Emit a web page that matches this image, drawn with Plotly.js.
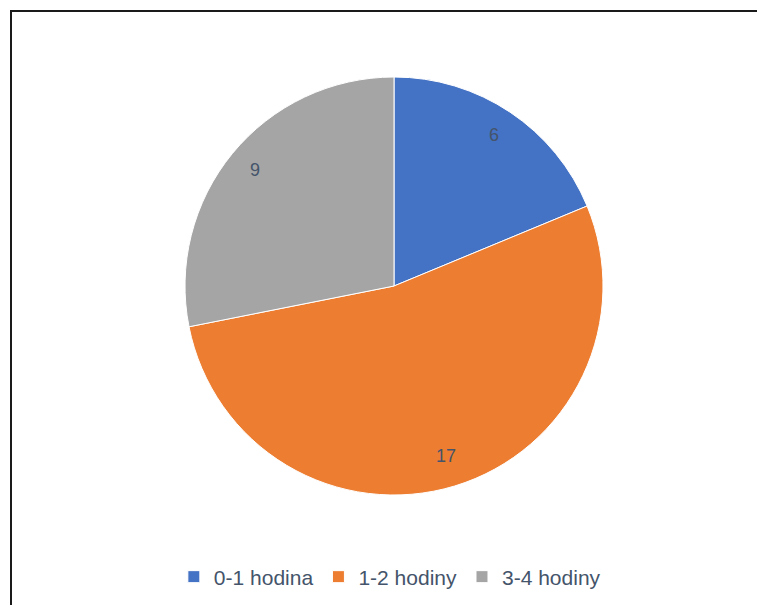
<!DOCTYPE html>
<html>
<head>
<meta charset="utf-8">
<script src="https://cdn.plot.ly/plotly-3.0.1.min.js"></script>
<style>html,body{margin:0;padding:0;background:#fff;}#chart{width:757px;height:605px;}</style>
</head>
<body>
<div id="chart"></div>
<script>
var categories = ["0-1 hodina", "1-2 hodiny", "3-4 hodiny"];
var values = [6, 17, 9];
var colors = ["#4472C4", "#ED7D31", "#A5A5A5"];

var W = 757, H = 605;
var cx = 394, cy = 286, R = 209;

var total = values.reduce(function(a,b){return a+b;}, 0);
var annotations = [];
var acc = 0;
for (var i = 0; i < values.length; i++) {
  var mid = (acc + values[i] / 2) / total * 2 * Math.PI;
  acc += values[i];
  var r = 0.86 * R;
  var px = cx + r * Math.sin(mid);
  var py = cy - r * Math.cos(mid) - 2;
  annotations.push({
    x: px / W, y: 1 - py / H, xref: "paper", yref: "paper",
    text: String(values[i]), showarrow: false,
    xanchor: "center", yanchor: "middle",
    font: {family: "Liberation Sans, Arial, sans-serif", size: 18, color: "#44546A"}
  });
}

var data = [{
  type: "pie",
  labels: categories,
  values: values,
  sort: false,
  direction: "clockwise",
  rotation: 0,
  textinfo: "none",
  hoverinfo: "label+value",
  marker: {colors: colors, line: {color: "#FFFFFF", width: 1}},
  domain: {x: [(cx - R) / W, (cx + R) / W], y: [1 - (cy + R) / H, 1 - (cy - R) / H]}
}];

var layout = {
  width: W, height: H,
  margin: {l: 0, r: 0, t: 0, b: 0},
  paper_bgcolor: "#FFFFFF",
  showlegend: true,
  legend: {
    orientation: "h", x: 0.515, xanchor: "center", y: 1 - 577 / H, yanchor: "middle",
    font: {family: "Liberation Sans, Arial, sans-serif", size: 21, color: "#44546A"},
    itemwidth: 30, traceorder: "normal"
  },
  annotations: annotations,
  shapes: [{
    type: "rect", xref: "paper", yref: "paper",
    x0: 11 / W, x1: 1.02, y0: -0.02, y1: 1 - 11 / H,
    line: {color: "#1A1A1A", width: 2}, fillcolor: "rgba(0,0,0,0)", layer: "above"
  }]
};

Plotly.newPlot("chart", data, layout, {staticPlot: true, displayModeBar: false});
</script>
</body>
</html>
